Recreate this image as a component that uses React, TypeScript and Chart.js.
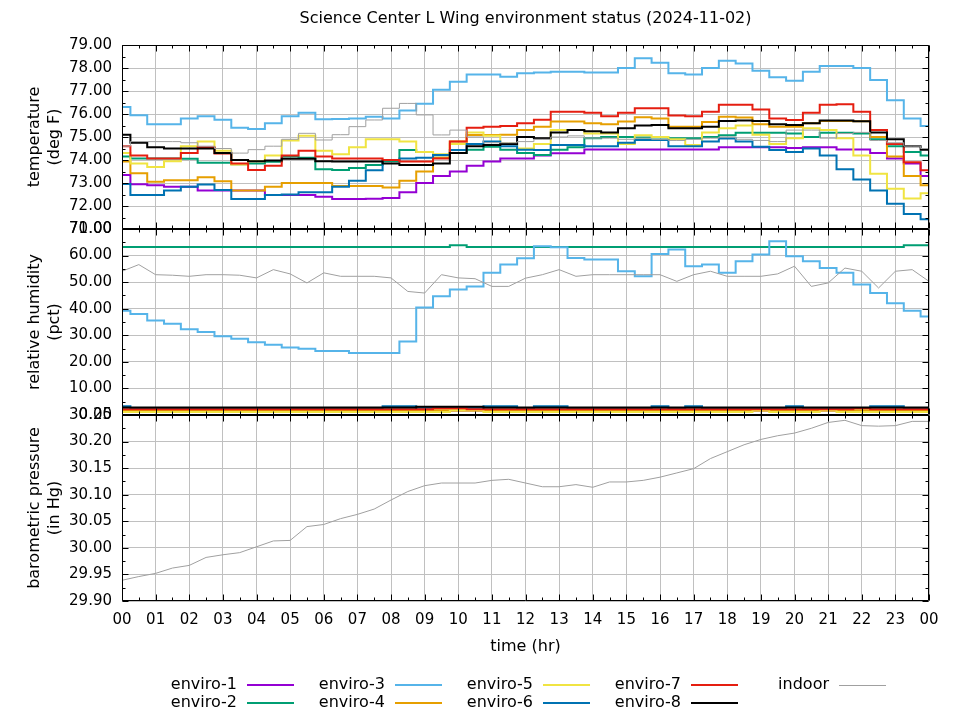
import { useEffect, useRef } from 'react';
import { Chart, registerables } from 'chart.js';

Chart.register(...registerables);

const TITLE = 'Science Center L Wing environment status (2024-11-02)';
const SERIES_NAMES = ['enviro-1', 'enviro-2', 'enviro-3', 'enviro-4', 'enviro-5', 'enviro-6', 'enviro-7', 'enviro-8', 'indoor'];
const SERIES_COLORS = ['#9400d3', '#009e73', '#56b4e9', '#e69f00', '#f0e442', '#0072b2', '#e51e10', '#000000', '#a0a0a0'];
const SERIES_WIDTHS = [2, 2, 2, 2, 2, 2, 2, 2, 1];

const HOURS = [0, 0.5, 1, 1.5, 2, 2.5, 3, 3.5, 4, 4.5, 5, 5.5, 6, 6.5, 7, 7.5, 8, 8.5, 9, 9.5, 10, 10.5, 11, 11.5, 12, 12.5, 13, 13.5, 14, 14.5, 15, 15.5, 16, 16.5, 17, 17.5, 18, 18.5, 19, 19.5, 20, 20.5, 21, 21.5, 22, 22.5, 23, 23.5, 24];

// temperature (deg F)
const E1_TEMP = [73.35, 72.95, 72.9, 72.84, 72.84, 72.67, 72.67, 72.67, 72.67, 72.48, 72.48, 72.48, 72.4, 72.3, 72.3, 72.32, 72.35, 72.6, 73.0, 73.3, 73.5, 73.75, 73.93, 74.07, 74.07, 74.2, 74.29, 74.29, 74.46, 74.46, 74.46, 74.46, 74.46, 74.46, 74.46, 74.46, 74.55, 74.55, 74.55, 74.55, 74.52, 74.55, 74.55, 74.46, 74.46, 74.3, 74.07, 73.85, 73.3];
const E2_TEMP = [74.15, 74.07, 74.07, 74.07, 74.05, 73.88, 73.88, 73.82, 73.85, 73.92, 74.15, 74.1, 73.6, 73.57, 73.65, 73.78, 73.95, 74.43, 74.35, 74.1, 74.3, 74.45, 74.58, 74.45, 74.3, 74.22, 74.45, 74.55, 74.95, 75.0, 75.0, 74.98, 74.98, 74.95, 74.95, 75.0, 75.08, 75.18, 75.18, 75.18, 75.15, 75.0, 75.18, 75.18, 75.15, 74.9, 74.6, 74.35, 74.2];
const E3_TEMP = [76.3, 75.95, 75.55, 75.55, 75.8, 75.9, 75.75, 75.4, 75.35, 75.6, 75.9, 76.05, 75.77, 75.78, 75.8, 75.88, 75.8, 76.15, 76.45, 77.05, 77.4, 77.72, 77.72, 77.62, 77.77, 77.8, 77.84, 77.84, 77.8, 77.8, 78.0, 78.42, 78.23, 77.77, 77.72, 78.0, 78.32, 78.2, 77.88, 77.6, 77.45, 77.84, 78.09, 78.09, 78.0, 77.48, 76.6, 75.8, 75.48];
const E4_TEMP = [73.93, 73.42, 73.05, 73.12, 73.12, 73.25, 73.08, 72.67, 72.67, 72.84, 73.0, 73.0, 73.0, 72.87, 72.87, 72.87, 72.8, 73.1, 73.5, 74.1, 74.8, 75.09, 75.09, 75.1, 75.3, 75.45, 75.67, 75.67, 75.6, 75.55, 75.67, 75.86, 75.8, 75.45, 75.45, 75.65, 75.88, 75.85, 75.55, 75.45, 75.45, 75.6, 75.7, 75.7, 75.68, 75.0, 74.15, 73.3, 72.9];
const E5_TEMP = [74.3, 73.85, 73.7, 73.95, 74.6, 74.8, 74.4, 73.8, 73.95, 74.2, 74.85, 75.05, 74.4, 74.25, 74.55, 74.9, 74.9, 74.8, 74.35, 74.25, 74.7, 75.2, 75.05, 74.72, 74.5, 74.7, 75.3, 75.3, 75.15, 75.15, 74.7, 75.08, 75.0, 74.9, 74.65, 75.2, 75.38, 75.5, 75.1, 74.7, 74.95, 75.38, 75.3, 74.95, 74.2, 73.4, 72.75, 72.33, 72.55];
const E6_TEMP = [72.96, 72.48, 72.48, 72.67, 72.84, 72.93, 72.7, 72.3, 72.3, 72.48, 72.5, 72.6, 72.6, 72.84, 73.1, 73.55, 74.0, 74.07, 74.1, 74.22, 74.43, 74.7, 74.8, 74.6, 74.45, 74.43, 74.65, 74.65, 74.6, 74.6, 74.75, 74.87, 74.87, 74.6, 74.6, 74.8, 74.94, 74.8, 74.58, 74.43, 74.35, 74.5, 74.2, 73.6, 73.15, 72.67, 72.1, 71.65, 71.42];
const E7_TEMP = [74.6, 74.2, 74.07, 74.07, 74.3, 74.55, 74.28, 73.85, 73.57, 73.75, 74.2, 74.4, 74.15, 74.07, 74.07, 74.07, 74.0, 73.93, 73.93, 74.07, 74.8, 75.4, 75.45, 75.48, 75.6, 75.75, 76.1, 76.1, 76.05, 75.9, 76.05, 76.25, 76.25, 75.93, 75.9, 76.1, 76.4, 76.4, 76.2, 75.8, 75.74, 76.05, 76.4, 76.42, 76.1, 75.3, 74.7, 73.9, 73.55];
const E8_TEMP = [75.1, 74.75, 74.55, 74.5, 74.5, 74.5, 74.3, 74.0, 73.95, 73.98, 74.05, 74.05, 73.95, 73.93, 73.93, 73.93, 73.85, 73.78, 73.78, 73.85, 74.3, 74.6, 74.65, 74.7, 75.0, 74.95, 75.2, 75.3, 75.25, 75.2, 75.38, 75.5, 75.52, 75.38, 75.38, 75.45, 75.7, 75.72, 75.7, 75.55, 75.52, 75.6, 75.72, 75.72, 75.68, 75.2, 74.9, 74.6, 74.45];
const INDOOR_TEMP = [74.6, 74.8, 74.8, 74.8, 74.75, 74.6, 74.5, 74.3, 74.45, 74.6, 74.9, 75.16, 74.87, 75.1, 75.45, 75.74, 76.25, 76.46, 75.96, 75.09, 75.3, 75.0, 74.75, 74.75, 74.8, 74.9, 75.0, 75.05, 74.95, 74.95, 74.9, 74.95, 74.9, 74.85, 74.9, 74.95, 75.0, 74.9, 74.85, 74.8, 75.3, 75.3, 74.95, 75.15, 75.2, 74.85, 74.75, 74.6, 74.5];

// relative humidity (pct)
const E1_HUM = [1.5, 1.5, 1.5, 1.5, 1.5, 1.5, 1.5, 1.5, 1.5, 1.5, 1.5, 1.5, 1.5, 1.5, 1.5, 1.5, 1.5, 1.5, 1.5, 1.5, 1.5, 1.5, 1.5, 1.5, 1.5, 1.5, 1.5, 1.5, 1.5, 1.5, 1.5, 1.5, 1.5, 1.5, 1.5, 1.5, 1.5, 1.5, 1.5, 1.5, 1.5, 1.5, 1.5, 1.5, 1.5, 1.5, 1.5, 1.5, 1.5];
const E2_HUM = [63.2, 63.2, 63.2, 63.2, 63.2, 63.2, 63.2, 63.2, 63.2, 63.2, 63.2, 63.2, 63.2, 63.2, 63.2, 63.2, 63.2, 63.2, 63.2, 63.2, 63.9, 63.2, 63.2, 63.2, 63.2, 63.2, 63.2, 63.2, 63.2, 63.2, 63.2, 63.2, 63.2, 63.2, 63.2, 63.2, 63.2, 63.2, 63.2, 63.2, 63.2, 63.2, 63.2, 63.2, 63.2, 63.2, 63.2, 63.9, 63.9];
const E3_HUM = [39.2, 38.0, 35.6, 34.3, 32.3, 31.2, 29.6, 28.7, 27.4, 26.4, 25.4, 24.9, 24.1, 24.1, 23.3, 23.3, 23.3, 27.7, 40.5, 44.7, 47.2, 48.4, 53.5, 56.6, 59.0, 63.5, 63.1, 59.1, 58.5, 58.5, 54.1, 52.2, 60.6, 62.3, 56.0, 56.6, 53.5, 57.9, 60.4, 65.4, 59.7, 57.9, 55.3, 53.5, 49.1, 45.9, 42.1, 39.2, 37.1];
const E4_HUM = [1.8, 1.8, 1.8, 1.8, 1.8, 1.8, 1.8, 1.8, 1.8, 1.8, 1.8, 1.8, 1.8, 1.8, 1.8, 1.8, 1.8, 1.8, 1.8, 1.8, 1.8, 1.8, 1.8, 1.8, 1.8, 1.8, 1.8, 1.8, 1.8, 1.8, 1.8, 1.8, 1.8, 1.8, 1.8, 1.8, 1.8, 1.8, 1.8, 1.8, 1.8, 1.8, 1.8, 1.8, 1.8, 1.8, 1.8, 1.8, 1.8];
const E5_HUM = [1.1, 1.1, 1.1, 1.1, 1.1, 1.1, 1.1, 1.1, 1.1, 1.1, 1.1, 1.1, 1.1, 1.1, 1.1, 1.1, 1.1, 1.1, 1.1, 1.1, 1.6, 1.6, 1.1, 1.1, 1.1, 1.1, 1.1, 1.1, 1.1, 1.1, 1.1, 1.1, 1.1, 1.1, 1.1, 1.1, 1.1, 1.1, 1.6, 1.1, 1.1, 1.1, 1.6, 1.1, 1.1, 1.1, 1.1, 1.1, 1.1];
const E6_HUM = [3.3, 2.6, 2.6, 2.6, 2.6, 2.6, 2.6, 2.6, 2.6, 2.6, 2.6, 2.6, 2.6, 2.6, 2.6, 2.6, 3.3, 3.3, 2.6, 2.6, 2.6, 2.6, 3.3, 3.3, 2.6, 3.3, 3.3, 2.6, 2.6, 2.6, 2.6, 2.6, 3.3, 2.6, 3.3, 2.6, 2.6, 2.6, 2.6, 2.6, 3.3, 2.6, 2.6, 2.6, 2.6, 3.3, 3.3, 2.6, 2.6];
const E7_HUM = [2.2, 2.2, 2.2, 2.2, 2.2, 2.2, 2.2, 2.2, 2.2, 2.2, 2.2, 2.2, 2.2, 2.2, 2.2, 2.2, 2.2, 2.2, 2.2, 2.5, 2.5, 2.2, 2.2, 2.2, 2.2, 2.2, 2.2, 2.2, 2.2, 2.2, 2.2, 2.2, 2.2, 2.2, 2.2, 2.2, 2.2, 2.2, 2.2, 2.2, 2.2, 2.2, 2.2, 2.2, 2.5, 2.2, 2.2, 2.2, 2.2];
const E8_HUM = [2.8, 2.8, 2.8, 2.8, 2.8, 2.8, 2.8, 2.8, 2.8, 2.8, 2.8, 2.8, 2.8, 2.8, 2.8, 2.8, 2.8, 2.8, 3.1, 3.1, 3.1, 3.1, 2.8, 2.8, 2.8, 2.8, 2.8, 2.8, 2.8, 2.8, 2.8, 2.8, 2.8, 2.8, 2.8, 2.8, 2.8, 2.8, 2.8, 2.8, 2.8, 2.8, 2.8, 2.8, 2.8, 2.8, 2.8, 2.8, 2.8];
const INDOOR_HUM = [54.1, 56.6, 52.8, 52.6, 52.2, 52.8, 52.8, 52.6, 51.6, 54.7, 53.1, 49.7, 53.5, 52.2, 52.2, 52.2, 51.6, 46.5, 45.9, 52.8, 51.6, 51.3, 48.4, 48.4, 51.5, 52.8, 54.7, 52.2, 52.8, 52.8, 52.8, 52.8, 52.8, 50.3, 52.8, 54.1, 52.2, 52.2, 52.2, 53.1, 56.0, 48.4, 49.7, 55.3, 54.1, 47.8, 54.1, 54.7, 50.3];

// barometric pressure (in Hg)
const INDOOR_PRESS = [29.939, 29.946, 29.952, 29.962, 29.967, 29.982, 29.987, 29.991, 30.002, 30.013, 30.014, 30.04, 30.044, 30.055, 30.063, 30.073, 30.09, 30.106, 30.117, 30.122, 30.122, 30.122, 30.127, 30.129, 30.122, 30.115, 30.115, 30.119, 30.114, 30.124, 30.124, 30.127, 30.133, 30.141, 30.149, 30.168, 30.181, 30.194, 30.204, 30.211, 30.216, 30.225, 30.236, 30.24, 30.23, 30.229, 30.23, 30.238, 30.238];

const TEMP_SERIES = [E1_TEMP, E2_TEMP, E3_TEMP, E4_TEMP, E5_TEMP, E6_TEMP, E7_TEMP, E8_TEMP, INDOOR_TEMP];
const HUM_SERIES = [E1_HUM, E2_HUM, E3_HUM, E4_HUM, E5_HUM, E6_HUM, E7_HUM, E8_HUM, INDOOR_HUM];

const FONT = 'DejaVu Sans';
const GRID = '#c0c0c0';
const PANELS = ['yT', 'yH', 'yP'];

function pts(values: number[]) {
  return values.map((v, i) => ({ x: HOURS[i], y: v }));
}

function makeDatasets() {
  const ds: any[] = [];
  TEMP_SERIES.forEach((arr, i) => {
    ds.push({
      label: SERIES_NAMES[i], data: pts(arr), yAxisID: 'yT', borderColor: SERIES_COLORS[i],
      borderWidth: SERIES_WIDTHS[i], pointRadius: 0, stepped: 'middle', order: 8 - i, fill: false,
    });
  });
  HUM_SERIES.forEach((arr, i) => {
    const indoor = i === 8;
    ds.push({
      label: SERIES_NAMES[i], data: pts(arr), yAxisID: 'yH', borderColor: SERIES_COLORS[i],
      borderWidth: SERIES_WIDTHS[i], pointRadius: 0, stepped: indoor ? false : 'middle', order: 8 - i, fill: false,
    });
  });
  ds.push({
    label: 'indoor', data: pts(INDOOR_PRESS), yAxisID: 'yP', borderColor: SERIES_COLORS[8],
    borderWidth: 1, pointRadius: 0, order: 0, fill: false,
  });
  return ds;
}

const framePlugin = {
  id: 'panelFrames',
  afterDatasetsDraw(chart: any) {
    const { ctx, chartArea: ca, scales } = chart;
    const xs = scales.x;
    const xVals: number[] = xs.ticks.map((t: any) => t.value);
    const left = Math.round(ca.left) + 0.5;
    const right = Math.round(ca.right) - 0.5;
    ctx.save();
    ctx.strokeStyle = '#000';
    ctx.lineWidth = 1;
    ctx.beginPath();
    for (const id of PANELS) {
      const s = scales[id];
      const top = Math.round(s.top) + 0.5;
      const bot = Math.round(s.bottom) - 0.5;
      ctx.rect(left, top, right - left, bot - top);
      for (let i = 0; i < xVals.length; i++) {
        const px = Math.round(xs.getPixelForValue(xVals[i])) + 0.5;
        ctx.moveTo(px, top); ctx.lineTo(px, top + 6);
        ctx.moveTo(px, bot); ctx.lineTo(px, bot - 6);
        if (i < xVals.length - 1) {
          const mx = Math.round(xs.getPixelForValue((xVals[i] + xVals[i + 1]) / 2)) + 0.5;
          ctx.moveTo(mx, top); ctx.lineTo(mx, top + 3);
          ctx.moveTo(mx, bot); ctx.lineTo(mx, bot - 3);
        }
      }
      const yVals: number[] = s.ticks.map((t: any) => t.value);
      for (let i = 0; i < yVals.length; i++) {
        const py = Math.round(s.getPixelForValue(yVals[i])) + 0.5;
        ctx.moveTo(left, py); ctx.lineTo(left + 6, py);
        ctx.moveTo(right, py); ctx.lineTo(right - 6, py);
        if (i < yVals.length - 1) {
          const my = Math.round(s.getPixelForValue((yVals[i] + yVals[i + 1]) / 2)) + 0.5;
          ctx.moveTo(left, my); ctx.lineTo(left + 3, my);
          ctx.moveTo(right, my); ctx.lineTo(right - 3, my);
        }
      }
    }
    ctx.stroke();
    ctx.restore();
  },
};

const legendPlugin = {
  id: 'gnuLegend',
  afterDraw(chart: any) {
    const { ctx, chartArea: ca } = chart;
    ctx.save();
    ctx.font = `16px "${FONT}"`;
    ctx.fillStyle = '#000';
    ctx.textAlign = 'right';
    ctx.textBaseline = 'middle';
    SERIES_NAMES.forEach((name, i) => {
      const col = Math.floor(i / 2);
      const row = i % 2;
      const tx = ca.left + 115 + col * 148;
      const ty = ca.bottom + 84 + row * 18;
      ctx.fillText(name, tx, ty);
      ctx.strokeStyle = SERIES_COLORS[i];
      ctx.lineWidth = SERIES_WIDTHS[i];
      ctx.beginPath();
      const ly = Math.round(ty) + (SERIES_WIDTHS[i] === 1 ? 0.5 : 0);
      ctx.moveTo(tx + 10, ly);
      ctx.lineTo(tx + 57, ly);
      ctx.stroke();
    });
    ctx.restore();
  },
};

function yScale(min: number, max: number, step: number, weight: number, title: string[]) {
  return {
    type: 'linear',
    position: 'left',
    stack: 'panels',
    stackWeight: weight,
    min, max,
    ticks: {
      stepSize: step, color: '#000', padding: 10, font: { family: FONT, size: 15 },
      callback: (v: any) => Number(v).toFixed(2), autoSkip: false,
    },
    grid: { color: GRID, drawTicks: false, lineWidth: 1 },
    border: { display: false },
    title: {
      display: true, text: title, color: '#000', font: { family: FONT, size: 16, lineHeight: 1.25 },
      padding: { top: 25, bottom: 0 },
    },
    afterFit: (s: any) => { s.width = 122; },
  };
}

export default function App() {
  const ref = useRef<HTMLCanvasElement>(null);
  useEffect(() => {
    Chart.defaults.font.family = FONT;
    Chart.defaults.color = '#000';
    const chart = new Chart(ref.current as HTMLCanvasElement, {
      type: 'line',
      data: { datasets: makeDatasets() },
      options: {
        animation: false,
        responsive: false,
        devicePixelRatio: 1,
        layout: { padding: { left: 0, right: 31, top: 0, bottom: 60 } },
        plugins: {
          legend: { display: false },
          tooltip: { enabled: false },
          title: {
            display: true, text: TITLE, color: '#000', fullSize: false,
            font: { family: FONT, size: 16, weight: 'normal', lineHeight: 1.2 },
            padding: { top: 9, bottom: 16.8 },
          },
        },
        scales: {
          x: {
            type: 'linear', min: 0, max: 24,
            ticks: {
              stepSize: 1, autoSkip: false, maxRotation: 0, color: '#000', padding: 10,
              font: { family: FONT, size: 15 },
              callback: (v: any) => String(Number(v) % 24).padStart(2, '0'),
            },
            grid: { color: GRID, drawTicks: false, lineWidth: 1 },
            border: { display: false },
            title: {
              display: true, text: 'time (hr)', color: '#000', font: { family: FONT, size: 16 },
              padding: { top: 4, bottom: 4 },
            },
            afterFit: (s: any) => { s.height = 59; },
          },
          yP: yScale(29.9, 30.25, 0.05, 186, ['barometric pressure', '(in Hg)']),
          yH: yScale(0, 70, 10, 186, ['relative humidity', '(pct)']),
          yT: yScale(71, 79, 1, 184, ['temperature', '(deg F)']),
        } as any,
      },
      plugins: [framePlugin, legendPlugin],
    } as any);
    return () => chart.destroy();
  }, []);
  return (
    <div style={{ position: 'absolute', left: 0, top: 0, width: 960, height: 720, background: '#fff' }}>
      <canvas ref={ref} width={960} height={720} style={{ display: 'block' }} />
    </div>
  );
}
